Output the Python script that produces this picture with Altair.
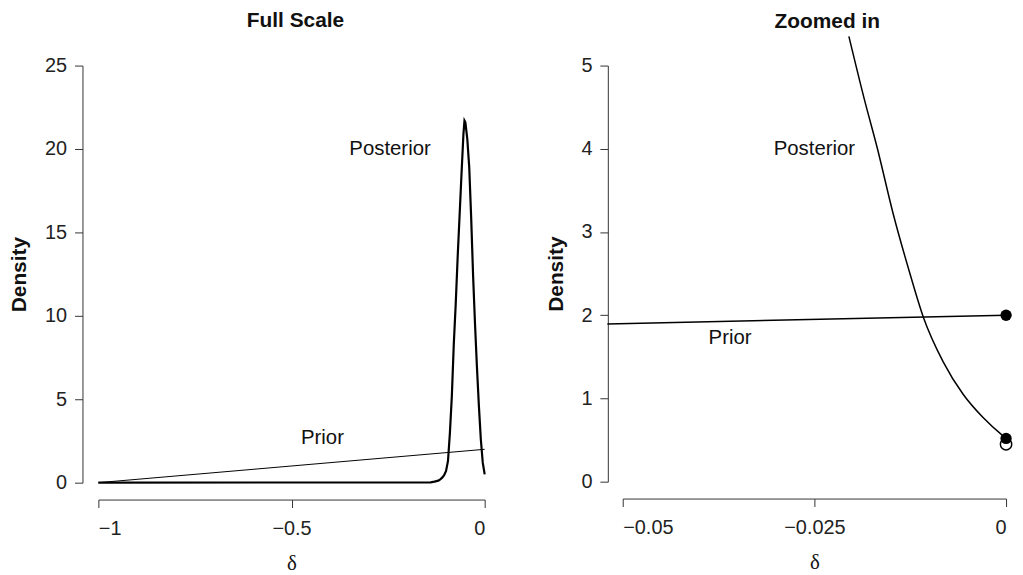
import altair as alt
import pandas as pd

# ---- Left panel (full scale) ----
post_full_x = [-1.0, -0.14, -0.13, -0.12, -0.115, -0.11, -0.105, -0.1, -0.095, -0.09,
               -0.085, -0.08, -0.075, -0.07, -0.065, -0.06, -0.055, -0.0523, -0.05,
               -0.045, -0.04, -0.035, -0.03, -0.025, -0.02, -0.015, -0.01, -0.005, 0.0]
post_full_y = [0.0, 0.02, 0.06, 0.12, 0.2, 0.3, 0.45, 0.7, 1.3, 3.0,
               5.2, 8.3, 10.7, 13.5, 16.0, 18.5, 20.9, 21.7, 21.6,
               20.6, 18.9, 15.9, 12.4, 9.5, 6.9, 4.6, 2.6, 1.2, 0.5]
prior_full_x = [-1.0, 0.0]
prior_full_y = [0.0, 2.0]

# ---- Right panel (zoomed in) ----
post_zoom_x = [-0.0205, -0.0185, -0.0168, -0.0147, -0.0126, -0.0108, -0.0082,
               -0.0056, -0.003, -0.0004, 0.0]
post_zoom_y = [5.35, 4.6, 4.01, 3.21, 2.52, 1.98, 1.44, 1.05, 0.77, 0.55, 0.52]
prior_zoom_x = [-0.052, 0.0]
prior_zoom_y = [1.896, 2.0]
filled_x = [0.0, 0.0]
filled_y = [2.0, 0.52]
open_x = [0.0]
open_y = [0.45]

# ---- annotations ----
lab_full = ["Posterior", "Prior"]
lab_full_x = [-0.245, -0.42]
lab_full_y = [20.0, 2.65]
lab_zoom = ["Posterior", "Prior"]
lab_zoom_x = [-0.025, -0.036]
lab_zoom_y = [4.0, 1.73]

SANS = "Liberation Sans"
SERIF = "Liberation Serif"

def xy(xs, ys):
    return pd.DataFrame({"x": xs, "y": ys})

# Left
xs_full = alt.Scale(domain=[-1, 0], nice=False, zero=False)
ys_full = alt.Scale(domain=[0, 25], nice=False, zero=False)
x_full_axis = alt.Axis(values=[-1, -0.5, 0], offset=17, title="δ",
                       labelExpr="datum.value == -1 ? '−1' : datum.value == -0.5 ? '−0.5' : '0'")
y_full_axis = alt.Axis(values=[0, 5, 10, 15, 20, 25], offset=16, title="Density")

X_full = alt.X("x:Q", scale=xs_full, axis=x_full_axis)
Y_full = alt.Y("y:Q", scale=ys_full, axis=y_full_axis)

left_post = alt.Chart(xy(post_full_x, post_full_y)).mark_line(
    color="black", strokeWidth=2.2).encode(x=X_full, y=Y_full)
left_prior = alt.Chart(xy(prior_full_x, prior_full_y)).mark_line(
    color="black", strokeWidth=1).encode(x=X_full, y=Y_full)
left_text = alt.Chart(pd.DataFrame({"x": lab_full_x, "y": lab_full_y, "t": lab_full})).mark_text(
    font=SANS, fontSize=20.5, color="#111").encode(x=X_full, y=Y_full, text="t:N")

left = alt.layer(left_prior, left_post, left_text).properties(
    width=389, height=420,
    title=alt.TitleParams("Full Scale", font=SANS, fontSize=21, fontWeight="bold",
                          color="#111", anchor="middle", offset=25, dx=4))

# Right
xs_zoom = alt.Scale(domain=[-0.05, 0], nice=False, zero=False)
ys_zoom = alt.Scale(domain=[0, 5], nice=False, zero=False)
x_zoom_axis = alt.Axis(values=[-0.05, -0.025, 0], offset=17, title="δ",
                       labelExpr="datum.value == -0.05 ? '−0.05' : datum.value == -0.025 ? '−0.025' : '0'")
y_zoom_axis = alt.Axis(values=[0, 1, 2, 3, 4, 5], offset=15, title="Density")
X_zoom = alt.X("x:Q", scale=xs_zoom, axis=x_zoom_axis)
Y_zoom = alt.Y("y:Q", scale=ys_zoom, axis=y_zoom_axis)

right_prior = alt.Chart(xy(prior_zoom_x, prior_zoom_y)).mark_line(
    color="black", strokeWidth=1.5).encode(x=X_zoom, y=Y_zoom)
right_post = alt.Chart(xy(post_zoom_x, post_zoom_y)).mark_line(
    color="black", strokeWidth=1.5, interpolate="monotone").encode(x=X_zoom, y=Y_zoom)
right_open = alt.Chart(xy(open_x, open_y)).mark_point(
    shape="circle", size=130, filled=False, color="black", strokeWidth=1.5, opacity=1).encode(x=X_zoom, y=Y_zoom)
right_filled = alt.Chart(xy(filled_x, filled_y)).mark_point(
    shape="circle", size=130, filled=True, color="black", opacity=1).encode(x=X_zoom, y=Y_zoom)
right_text = alt.Chart(pd.DataFrame({"x": lab_zoom_x, "y": lab_zoom_y, "t": lab_zoom})).mark_text(
    font=SANS, fontSize=20.5, color="#111").encode(x=X_zoom, y=Y_zoom, text="t:N")

right = alt.layer(right_prior, right_post, right_open, right_filled, right_text).properties(
    width=386, height=419,
    title=alt.TitleParams("Zoomed in", font=SANS, fontSize=21, fontWeight="bold",
                          color="#111", anchor="middle", offset=2, dx=13))

chart = alt.hconcat(left, right, spacing=55).properties(
    padding={"left": 0, "top": 0, "right": 0, "bottom": 0}
).configure_view(stroke=None).configure_axis(
    grid=False,
    domainColor="#333", tickColor="#333", domainWidth=1, tickWidth=1, tickSize=8,
    labelFont=SANS, labelFontSize=20, labelColor="#222", labelPadding=8,
    titleFont=SANS, titleFontSize=21, titleColor="#111",
).configure_axisY(
    titleFontWeight="bold", titlePadding=15, labelAngle=0
).configure_axisX(
    titleFont=SERIF, titleFontWeight="normal", titlePadding=14, labelPadding=11
)

chart.save("out.html", embed_options={"renderer": "svg", "actions": False})
